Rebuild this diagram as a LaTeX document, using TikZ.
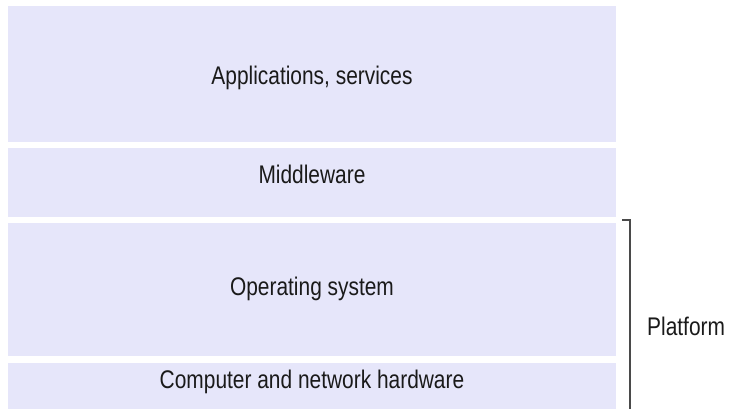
\documentclass[tikz,border=0pt]{standalone}
\usepackage{fontspec}
\setmainfont{Liberation Sans}[FakeStretch=0.82]
\definecolor{layerfill}{HTML}{E6E6FA}
\definecolor{textcol}{HTML}{1A1A1A}
\definecolor{bracketcol}{HTML}{4A4A4A}
\begin{document}
\begin{tikzpicture}[x=1pt,y=-1pt,
  layer/.style={fill=layerfill, draw=none, minimum width=608pt, inner sep=0pt, outer sep=0pt},
  lbl/.style={font=\fontsize{25.5}{28}\selectfont, text=textcol, inner sep=0pt, anchor=base},
  bracketline/.style={draw=bracketcol, line width=1.3pt}]
\useasboundingbox (0,0) rectangle (734,409);
% layers
\node[layer, minimum height=136pt] (apps) at (312,74) {};
\node[layer, minimum height=69pt]  (mid)  at (312,182.5) {};
\node[layer, minimum height=133pt] (os)   at (312,289.5) {};
\node[layer, minimum height=46pt]  (hw)   at (312,386) {};
% labels
\node[lbl] (appsT) at (312,85)  {Applications, services};
\node[lbl] (midT)  at (312,184) {Middleware};
\node[lbl] (osT)   at (312,295) {Operating system};
\node[lbl] (hwT)   at (312,388) {Computer and network hardware};
% platform bracket
\coordinate (brA) at (622,220);
\coordinate (brB) at (630,220);
\coordinate (brC) at (630,409);
\draw[bracketline] (brA) -- (brB) -- (brC);
\node[lbl, anchor=base west] (platform) at (647,335) {Platform};
\end{tikzpicture}
\end{document}
